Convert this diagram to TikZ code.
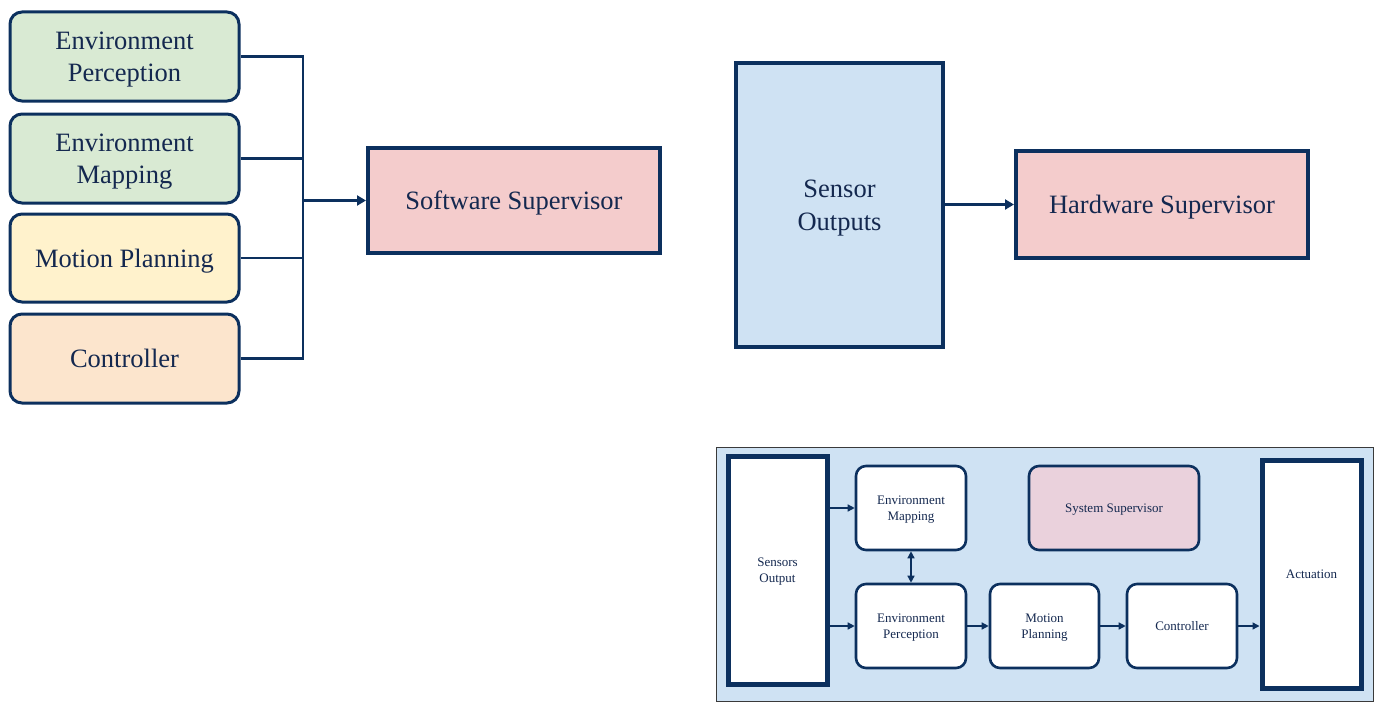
\documentclass[tikz,border=0pt]{standalone}
\usepackage{fontspec}
\setmainfont{Liberation Serif}
\usetikzlibrary{arrows.meta}
\definecolor{navy}{HTML}{0C305E}
\definecolor{txt}{HTML}{14284F}
\definecolor{fgreen}{HTML}{D9EAD3}
\definecolor{fyellow}{HTML}{FFF2CC}
\definecolor{forange}{HTML}{FCE5CD}
\definecolor{fpink}{HTML}{F4CCCC}
\definecolor{fblue}{HTML}{CFE2F3}
\definecolor{fmauve}{HTML}{EAD1DC}
\definecolor{pborder}{HTML}{3A3A3A}
\tikzset{
  bigtxt/.style={font=\fontsize{26.5}{32.5}\selectfont, text=txt, align=center, text depth=0pt},
  smalltxt/.style={font=\fontsize{13}{16}\selectfont, text=txt, align=center, text depth=0pt},
  leftbox/.style={bigtxt, draw=navy, line width=3pt, rounded corners=12pt, inner sep=0pt},
  supbox/.style={bigtxt, draw=navy, line width=4pt, fill=fpink, inner sep=0pt},
  smallbox/.style={smalltxt, draw=navy, line width=2.6pt, rounded corners=10pt, fill=white, inner sep=0pt, minimum width=110pt, minimum height=84pt},
  tallbox/.style={smalltxt, draw=navy, line width=5pt, fill=white, inner sep=0pt, minimum width=99pt, minimum height=228pt},
  wire/.style={draw=navy, line width=2.6pt},
  bigarrow/.style={draw=navy, line width=3.5pt, -{Triangle[length=9pt,width=10pt]}},
  smallarrow/.style={draw=navy, line width=1.4pt, -{Triangle[length=7pt,width=7pt]}},
  dblarrow/.style={draw=navy, line width=1.4pt, {Triangle[length=7pt,width=7pt]}-{Triangle[length=7pt,width=7pt]}}
}
\begin{document}
\begin{tikzpicture}[x=1pt,y=-1pt]
\useasboundingbox (0,0) rectangle (1381,709);
% ---- left software part
\node[leftbox, fill=fgreen, minimum width=229pt, minimum height=89pt] (ep) at (124.5,56.5) {Environment\\Perception};
\node[leftbox, fill=fgreen, minimum width=229pt, minimum height=89pt] (em) at (124.5,158.5) {Environment\\Mapping};
\node[leftbox, fill=fyellow, minimum width=229pt, minimum height=88pt] (mp) at (124.5,258) {Motion Planning};
\node[leftbox, fill=forange, minimum width=229pt, minimum height=89pt] (ct) at (124.5,358.5) {Controller};
\node[supbox, minimum width=292pt, minimum height=105pt] (ss) at (514,200.5) {Software Supervisor};
\coordinate (busx) at (303,0);
\draw[wire] (ep.east) -- (ep.east -| busx);
\draw[wire] (em.east) -- (em.east -| busx);
\draw[wire] (mp.east) -- (mp.east -| busx);
\draw[wire] (ct.east) -- (ct.east -| busx);
\draw[wire, line cap=rect] (ep.east -| busx) -- (ct.east -| busx);
\draw[bigarrow] (ss.west -| busx) -- (ss.west);
% ---- hardware part
\node[bigtxt, draw=navy, line width=4pt, fill=fblue, inner sep=0pt, minimum width=207pt, minimum height=284pt] (so) at (839.5,205) {Sensor\\Outputs};
\node[supbox, minimum width=292pt, minimum height=107pt] (hs) at (1162,204.5) {Hardware Supervisor};
\draw[bigarrow] (hs.west -| so.east) -- (hs.west);
% ---- system panel
\node[draw=pborder, line width=0.8pt, fill=fblue, minimum width=657pt, minimum height=254pt, inner sep=0pt] (panel) at (1044.5,574) {};
\node[tallbox] (bso) at (777.5,570) {Sensors\\Output};
\node[tallbox] (bact) at (1311.5,574) {Actuation};
\node[smallbox] (bem) at (911,508) {Environment\\Mapping};
\node[smallbox, fill=fmauve, minimum width=170pt] (bsys) at (1114,508) {System Supervisor};
\node[smallbox] (bep) at (911,626) {Environment\\Perception};
\node[smallbox, minimum width=109pt] (bmp) at (1044.5,626) {Motion\\Planning};
\node[smallbox] (bct) at (1182,626) {Controller};
\draw[smallarrow] (bem.west -| bso.east) -- (bem.west);
\draw[smallarrow] (bep.west -| bso.east) -- (bep.west);
\draw[smallarrow] (bep.east) -- (bmp.west);
\draw[smallarrow] (bmp.east) -- (bct.west);
\draw[smallarrow] (bct.east) -- (bct.east -| bact.west);
\draw[dblarrow] (bem.south) -- (bep.north);
\end{tikzpicture}
\end{document}
